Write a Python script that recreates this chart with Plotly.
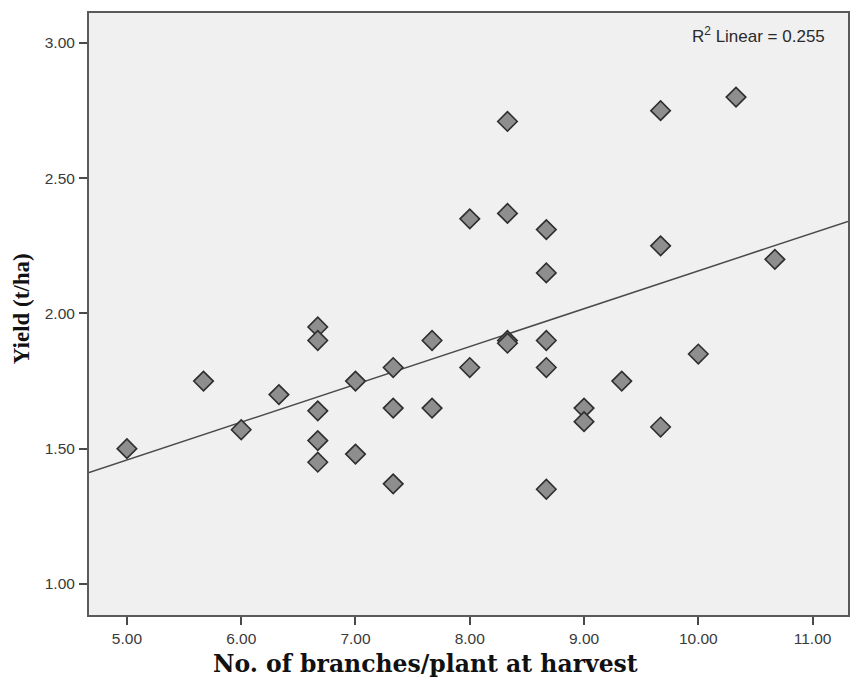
import numpy as np
import plotly.graph_objects as go

# Data
branches = [5.00, 5.67, 6.00, 6.33, 6.67, 6.67, 6.67, 6.67, 6.67,
            7.00, 7.00, 7.33, 7.33, 7.33, 7.67, 7.67, 8.00, 8.00,
            8.33, 8.33, 8.33, 8.33, 8.67, 8.67, 8.67, 8.67, 8.67,
            9.00, 9.00, 9.33, 9.67, 9.67, 9.67, 10.00, 10.33, 10.67]
yield_tha = [1.50, 1.75, 1.57, 1.70, 1.95, 1.90, 1.64, 1.53, 1.45,
             1.75, 1.48, 1.80, 1.65, 1.37, 1.90, 1.65, 2.35, 1.80,
             2.71, 2.37, 1.90, 1.89, 2.31, 2.15, 1.90, 1.80, 1.35,
             1.65, 1.60, 1.75, 2.75, 2.25, 1.58, 1.85, 2.80, 2.20]
x_ticks = [5, 6, 7, 8, 9, 10, 11]
x_tick_labels = ["5.00", "6.00", "7.00", "8.00", "9.00", "10.00", "11.00"]
y_ticks = [1.0, 1.5, 2.0, 2.5, 3.0]
y_tick_labels = ["1.00", "1.50", "2.00", "2.50", "3.00"]
r2_text = "R<sup>2</sup> Linear = 0.255"

x_range = [4.668, 11.31]
y_range = [0.885, 3.111]

slope, intercept = np.polyfit(branches, yield_tha, 1)
fit_x = np.array(x_range)
fit_y = slope * fit_x + intercept

fig = go.Figure()
fig.add_trace(go.Scatter(
    x=fit_x, y=fit_y, mode="lines",
    line=dict(color="#4a4a4a", width=1.5),
    showlegend=False, hoverinfo="skip"))
fig.add_trace(go.Scatter(
    x=branches, y=yield_tha, mode="markers",
    marker=dict(symbol="diamond", size=15, color="#8e8e8e",
                line=dict(color="#2e2e2e", width=1.6)),
    showlegend=False))

axis_common = dict(
    showgrid=False, zeroline=False, showline=True, mirror=True,
    linecolor="#5a5a5a", linewidth=2,
    ticks="outside", ticklen=8, tickwidth=2, tickcolor="#4a4a4a",
    tickfont=dict(family="Liberation Sans, Arial", size=15.5, color="#3a3a3a"),
)
fig.update_xaxes(range=x_range, tickvals=x_ticks, ticktext=x_tick_labels, **axis_common)
fig.update_yaxes(range=y_range, tickvals=y_ticks, ticktext=y_tick_labels, ticklabelstandoff=1,
                 **axis_common)

fig.add_annotation(text=r2_text, xref="paper", yref="paper", x=(829 - 89) / 761, y=(615 - 35) / 602,
                   xanchor="right", yanchor="middle", showarrow=False,
                   font=dict(family="Liberation Sans, Arial", size=17, color="#2a2a2a"))
fig.add_annotation(text="<b>No. of branches/plant at harvest</b>", xref="paper", yref="paper",
                   x=(426 - 89) / 761, y=-(664 - 615) / 602, xanchor="center", yanchor="middle",
                   showarrow=False,
                   font=dict(family="DejaVu Serif", size=23.5, color="#111111"))
fig.add_annotation(text="<b>Yield (t/ha)</b>", xref="paper", yref="paper",
                   x=-(89 - 21) / 761, y=(615 - 309) / 602, xanchor="center", yanchor="middle",
                   textangle=-90, showarrow=False,
                   font=dict(family="Liberation Serif, Times New Roman", size=23, color="#111111"))

fig.update_layout(
    width=852, height=678,
    margin=dict(l=89, r=2, t=13, b=63),
    paper_bgcolor="white", plot_bgcolor="#f0f0f0",
)
fig.write_html("out.html")
